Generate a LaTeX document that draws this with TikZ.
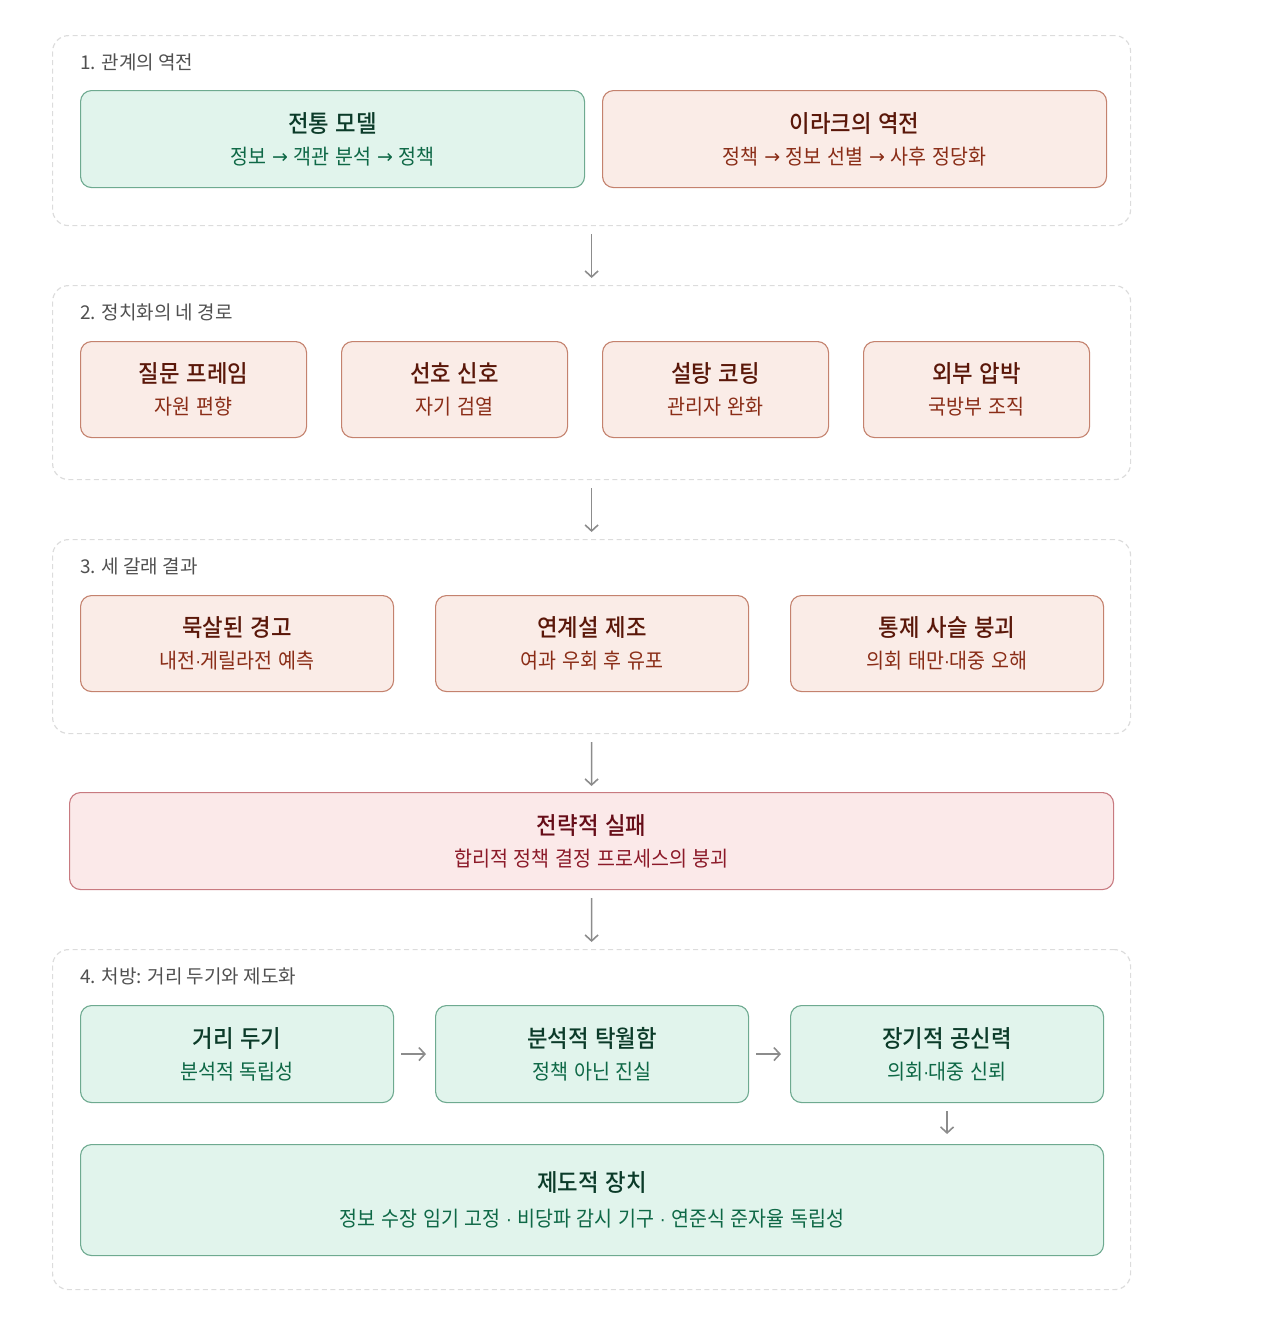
\documentclass[tikz,border=0pt]{standalone}
\usepackage{fontspec}
\setmainfont{Noto Sans CJK KR}
\newfontfamily\boxfont[FakeStretch=0.93, WordSpace=1.3, BoldFont={Noto Sans CJK KR Medium}]{Noto Sans CJK KR}
\newfontfamily\symfont[Scale=0.8]{DejaVu Sans}
\newfontfamily\arrfont{DejaVu Sans}
\usetikzlibrary{arrows.meta,positioning}

\definecolor{frameline}{HTML}{DCDCDC}
\definecolor{headtext}{HTML}{505050}
\definecolor{greenfill}{HTML}{E1F4EC}
\definecolor{greenline}{HTML}{6EAA90}
\definecolor{greentitle}{HTML}{0B3B29}
\definecolor{greensub}{HTML}{0E6846}
\definecolor{pinkfill}{HTML}{FAECE7}
\definecolor{pinkline}{HTML}{C4826E}
\definecolor{pinktitle}{HTML}{5A1709}
\definecolor{pinksub}{HTML}{8A2D17}
\definecolor{redfill}{HTML}{FBE9E9}
\definecolor{redline}{HTML}{C87A80}
\definecolor{redtitle}{HTML}{660D18}
\definecolor{redsub}{HTML}{8C1A29}
\definecolor{flowgray}{HTML}{8C8C8C}

\newcommand\cardtext[2]{{\fontsize{24}{28}\selectfont\bfseries\color{cardtitle}#1}\\#2}
\newcommand\rarr{\raisebox{1.2pt}{\arrfont\fontsize{19}{19}\selectfont →}}
\newcommand\mdot{{\symfont ·}}

\tikzset{
  frame/.style={draw=frameline, dash pattern=on 5pt off 3.5pt, line width=1.2pt,
    rounded corners=16pt, anchor=north west, inner sep=0pt},
  head/.style={anchor=west, inner sep=0pt, text=headtext, font=\fontsize{19}{22}\selectfont},
  card/.style={rounded corners=11pt, line width=1.1pt, anchor=north west,
    align=center, inner sep=0pt, font=\boxfont\fontsize{21}{32}\selectfont},
  greencard/.style={card, draw=greenline, fill=greenfill, text=greensub,
    execute at begin node={\colorlet{cardtitle}{greentitle}}},
  pinkcard/.style={card, draw=pinkline, fill=pinkfill, text=pinksub,
    execute at begin node={\colorlet{cardtitle}{pinktitle}}},
  redcard/.style={card, draw=redline, fill=redfill, text=redsub,
    execute at begin node={\colorlet{cardtitle}{redtitle}}},
  flow/.style={draw=flowgray, line width=1.6pt, -{Straight Barb[length=6pt,width=13pt]}}
}

\begin{document}
\begin{tikzpicture}[x=1pt, y=-1pt]
\useasboundingbox (0,0) rectangle (1280,1342);

% section frames
\node[frame, minimum width=1078pt, minimum height=190pt] (sec1) at (52,35) {};
\node[frame, minimum width=1078pt, minimum height=194pt] (sec2) at (52,285) {};
\node[frame, minimum width=1078pt, minimum height=194pt] (sec3) at (52,539) {};
\node[frame, minimum width=1078pt, minimum height=340pt] (sec4) at (52,949) {};

\node[head] (h1) at (80,62) {1. 관계의 역전};
\node[head] (h2) at (80,312) {2. 정치화의 네 경로};
\node[head] (h3) at (80,566) {3. 세 갈래 결과};
\node[head] (h4) at (80,976) {4. 처방: 거리 두기와 제도화};

% 1. reversal
\node[greencard, minimum width=504pt, minimum height=97pt] (model) at (80,90)
  {\cardtext{전통 모델}{정보 \rarr{} 객관 분석 \rarr{} 정책}};
\node[pinkcard, minimum width=504pt, minimum height=97pt] (iraq) at (602,90)
  {\cardtext{이라크의 역전}{정책 \rarr{} 정보 선별 \rarr{} 사후 정당화}};

% 2. four paths
\node[pinkcard, minimum width=226pt, minimum height=96pt] (frame) at (80,341)
  {\cardtext{질문 프레임}{자원 편향}};
\node[pinkcard, minimum width=226pt, minimum height=96pt] (signal) at (341,341)
  {\cardtext{선호 신호}{자기 검열}};
\node[pinkcard, minimum width=226pt, minimum height=96pt] (sugar) at (602,341)
  {\cardtext{설탕 코팅}{관리자 완화}};
\node[pinkcard, minimum width=226pt, minimum height=96pt] (press) at (863,341)
  {\cardtext{외부 압박}{국방부 조직}};

% 3. outcomes
\node[pinkcard, minimum width=313pt, minimum height=96pt] (warn) at (80,595)
  {\cardtext{묵살된 경고}{내전\mdot{}게릴라전 예측}};
\node[pinkcard, minimum width=313pt, minimum height=96pt] (link) at (435,595)
  {\cardtext{연계설 제조}{여과 우회 후 유포}};
\node[pinkcard, minimum width=313pt, minimum height=96pt] (chain) at (790,595)
  {\cardtext{통제 사슬 붕괴}{의회 태만\mdot{}대중 오해}};

% strategic failure
\node[redcard, minimum width=1044pt, minimum height=97pt] (fail) at (69,792)
  {\cardtext{전략적 실패}{합리적 정책 결정 프로세스의 붕괴}};

% 4. remedy
\node[greencard, minimum width=313pt, minimum height=97pt] (dist) at (80,1005)
  {\cardtext{거리 두기}{분석적 독립성}};
\node[greencard, minimum width=313pt, minimum height=97pt] (excel) at (435,1005)
  {\cardtext{분석적 탁월함}{정책 아닌 진실}};
\node[greencard, minimum width=313pt, minimum height=97pt] (trust) at (790,1005)
  {\cardtext{장기적 공신력}{의회\mdot{}대중 신뢰}};
\node[greencard, minimum width=1023pt, minimum height=111pt,
  font=\boxfont\fontsize{21}{35}\selectfont] (inst) at (80,1144)
  {\cardtext{제도적 장치}{정보 수장 임기 고정 \mdot{} 비당파 감시 기구 \mdot{} 연준식 준자율 독립성}};

% connectors
\draw[flow, shorten <=8pt, shorten >=7pt] (sec1.south) -- (sec2.north);
\draw[flow, shorten <=8pt, shorten >=7pt] (sec2.south) -- (sec3.north);
\draw[flow, shorten <=8pt, shorten >=6pt] (sec3.south) -- (fail.north);
\draw[flow, shorten <=8pt, shorten >=7pt] (fail.south) -- (sec4.north);
\draw[flow, shorten <=7pt, shorten >=9pt] (dist.east) -- (excel.west);
\draw[flow, shorten <=7pt, shorten >=9pt] (excel.east) -- (trust.west);
\draw[flow, shorten <=8pt, shorten >=10pt] (trust.south) -- (trust.south |- inst.north);
\end{tikzpicture}
\end{document}
